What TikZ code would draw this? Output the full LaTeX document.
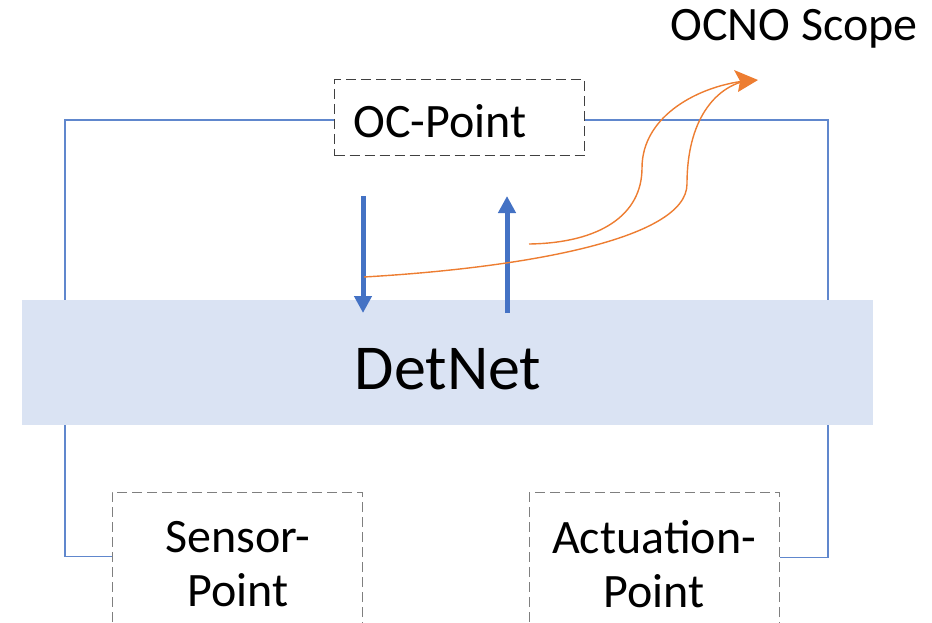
\documentclass[tikz,border=0pt]{standalone}
\usepackage{fontspec}
\setmainfont{Carlito}
\usetikzlibrary{arrows.meta,calc}
\definecolor{cblue}{HTML}{4472C4}
\definecolor{cband}{HTML}{DAE3F3}
\definecolor{corange}{HTML}{ED7D31}
\definecolor{cdash}{HTML}{7F7F7F}
\tikzset{
  pointbox/.style={draw=cdash, line width=1pt, dash pattern=on 10pt off 5pt, minimum width=250pt, inner sep=0pt},
  pointtext/.style={align=center, inner sep=0pt, font=\fontsize{48}{54}\selectfont},
  loopline/.style={draw=cblue!85, line width=1.3pt},
  flow/.style={draw=cblue, line width=5pt, -{Triangle[length=17pt,width=17pt]}},
  scope/.style={draw=corange, line width=1.4pt},
}
\begin{document}
\begin{tikzpicture}[x=1pt,y=-1pt]
\useasboundingbox (0,0) rectangle (932,623);
\clip (0,0) rectangle (932,623);
% nodes
\node[pointbox, draw=black!75, minimum height=76pt] (oc) at (459.5,118) {};
\node[pointtext] (octext) at (440,121) {OC-Point};
\node[pointbox, minimum height=160pt] (sensor) at (237,572) {};
\node[pointtext] (sensortext) at (238,564) {Sensor-\\Point};
\node[pointbox, minimum height=160pt] (act) at (654.5,572) {};
\node[pointtext] (acttext) at (654,564) {Actuation-\\Point};
\node[pointtext] (ocno) at (794,29) {OCNO Scope};
% loop lines
\coordinate (sl) at ($(sensor.north west)+(0,65)$);
\coordinate (ar) at ($(act.north east)+(0,66)$);
\draw[loopline] (oc.west |- 0,120) -- (65,120) |- (sl);
\draw[loopline] (oc.east |- 0,120) -- (828,120) |- (ar);
% band
\node[fill=cband, minimum width=851pt, minimum height=125pt, inner sep=0pt] (detnet) at (447.5,362.5) {};
\node[inner sep=0pt, font=\fontsize{64}{70}\selectfont] (detnettext) at (448,369) {DetNet};
% flow arrows
\coordinate (d1) at (363,196);
\coordinate (d2) at (363,313);
\coordinate (u1) at (507,313);
\coordinate (u2) at (507,196);
\draw[flow] (d1) -- (d2);
\draw[flow] (u1) -- (u2);
% orange curves
\coordinate (c1) at (529,244);
\coordinate (c2) at (364,277);
\coordinate (tip) at (758,80);
\draw[scope] (c1) .. controls (600,243) and (642,215) .. (642,168)
   .. controls (642,115) and (700,86) .. (745,81);
\draw[scope] (c2) .. controls (520,268) and (687,240) .. (687,184)
   .. controls (687,120) and (715,88) .. (745,81);
\fill[corange] (tip) -- (734,70) -- (740,81) -- (738,92) -- cycle;
\end{tikzpicture}
\end{document}
